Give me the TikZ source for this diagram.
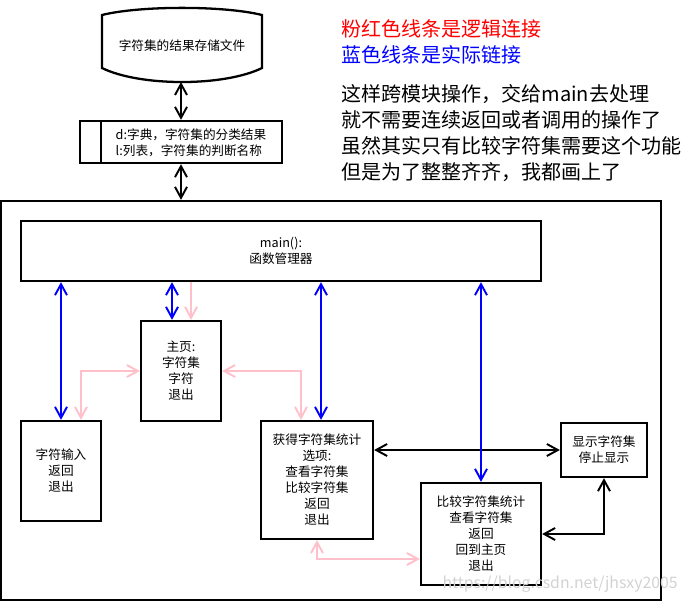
\documentclass[tikz,border=0pt]{standalone}
\usepackage{fontspec}
\setmainfont{Noto Sans CJK SC}
\usetikzlibrary{arrows.meta,calc}
\definecolor{rosa}{RGB}{255,192,203}
\definecolor{blau}{RGB}{0,0,255}
\definecolor{rot}{RGB}{255,0,0}

\begin{document}
\begin{tikzpicture}[x=0.02cm, y=-0.02cm, >={Straight Barb[length=2.2mm,width=2.4mm]},
    kasten/.style={draw, line width=1.3pt, align=center, inner sep=0pt, font=\fontsize{7.2}{9.1}\selectfont},
    blaulinie/.style={blau, line width=1.1pt, <->},
    rosalinie/.style={rosa, line width=1.1pt, <->},
    schwarzlinie/.style={black, line width=1.1pt, <->},
    hinweis/.style={anchor=west, align=left, inner sep=0pt, font=\fontsize{11.4}{14.8}\selectfont}]
    \useasboundingbox (0,0) rectangle (686,602);

    % Speicherdatei oben
    \draw[line width=1.3pt] (102,15) .. controls (140,5.5) and (224,5.5) .. (262,15) -- (262,68)
        .. controls (224,86.7) and (140,86.7) .. (102,68) -- cycle;
    \node[font=\fontsize{7.2}{9.1}\selectfont] (speicher) at (182,46) {字符集的结果存储文件};
    \coordinate (speicherunten) at (181,82);

    % Datenstruktur
    \node[kasten, minimum width=4.04cm, minimum height=0.84cm] (daten) at (181,142) {};
    \draw[line width=1.3pt] ($(daten.north west)+(22,0)$) -- ($(daten.south west)+(22,0)$);
    \node[font=\fontsize{7.2}{9.1}\selectfont, align=left] (datentext) at (191,143) {d:字典，字符集的分类结果\\l:列表，字符集的判断名称};

    % Rahmen und Module
    \node[draw, line width=1.3pt, minimum width=13.2cm, minimum height=7.98cm, inner sep=0pt] (rahmen) at (331,400.5) {};
    \node[kasten, minimum width=10.4cm, minimum height=1.2cm] (main) at (281,251) {main():\\函数管理器};
    \node[kasten, minimum width=1.6cm, minimum height=2cm] (hauptseite) at (181,371) {主页:\\字符集\\字符\\退出};
    \node[kasten, minimum width=1.6cm, minimum height=2cm] (eingabe) at (61,471) {字符输入\\返回\\退出};
    \node[kasten, minimum width=2.24cm, minimum height=2.36cm] (statistik) at (317,480) {获得字符集统计\\选项:\\查看字符集\\比较字符集\\返回\\退出};
    \node[kasten, minimum width=1.72cm, minimum height=1.08cm] (anzeige) at (604,450) {显示字符集\\停止显示};
    \node[kasten, minimum width=2.4cm, minimum height=2.04cm] (vergleich) at (481,534) {比较字符集统计\\查看字符集\\返回\\回到主页\\退出};

    % Hilfspunkte
    \coordinate (blau1) at ($(hauptseite.north)+(-9,0)$);
    \coordinate (rosa1) at ($(hauptseite.north)+(10,0)$);
    \coordinate (rosa2) at ($(eingabe.north)+(20,0)$);
    \coordinate (rosa3) at ($(statistik.north)+(-16,0)$);
    \coordinate (blau2) at ($(statistik.north)+(4,0)$);
    \coordinate (rosa4) at ($(vergleich.west)+(0,25)$);

    % Schwarze Linien
    \draw[schwarzlinie] (speicherunten) -- (daten.north);
    \draw[schwarzlinie] (daten.south) -- (daten.south |- rahmen.north);
    \draw[schwarzlinie] (statistik.east |- anzeige.west) -- (anzeige.west);
    \draw[schwarzlinie] (vergleich.east) -| (anzeige.south);

    % Blaue Linien (tatsaechliche Verbindung)
    \draw[blaulinie] (main.south -| eingabe.north) -- (eingabe.north);
    \draw[blaulinie] (blau1 |- main.south) -- (blau1);
    \draw[blaulinie] (blau2 |- main.south) -- (blau2);
    \draw[blaulinie] (main.south -| vergleich.north) -- (vergleich.north);

    % Rosa Linien (logische Verbindung)
    \draw[rosalinie, ->] (rosa1 |- main.south) -- (rosa1);
    \draw[rosalinie] (hauptseite.west) -| (rosa2);
    \draw[rosalinie] (hauptseite.east) -| (rosa3);
    \draw[rosalinie] (statistik.south) |- (rosa4);

    % Legende
    \node[hinweis, text=rot] (legende1) at (341,29) {粉红色线条是逻辑连接};
    \node[hinweis, text=blau] (legende2) at (341,55) {蓝色线条是实际链接};
    \node[hinweis] (erklaerung) at (341,133) {这样跨模块操作，交给main去处理\\就不需要连续返回或者调用的操作了\\虽然其实只有比较字符集需要这个功能\\但是为了整整齐齐，我都画上了};

    \node[text=gray!35, font=\fontsize{9}{9}\selectfont, anchor=east, inner sep=0pt] (wasserzeichen) at (678,584) {https://blog.csdn.net/jhsxy2005};
\end{tikzpicture}
\end{document}
